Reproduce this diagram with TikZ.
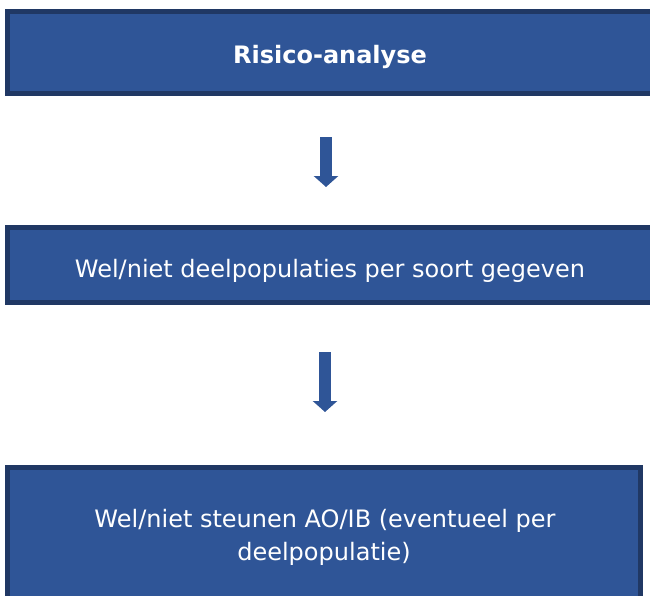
\documentclass[tikz,border=0pt]{standalone}
\usepackage{fontspec}
\setmainfont{DejaVu Sans}
\usetikzlibrary{arrows.meta}
\definecolor{boxfill}{HTML}{2F5597}
\definecolor{boxline}{HTML}{203864}
\begin{document}
\begin{tikzpicture}[x=1pt,y=-1pt,
  box/.style={draw=boxline, fill=boxfill, line width=5pt, inner sep=0pt},
  label/.style={text=white, inner sep=0pt, anchor=base, font=\fontsize{24}{33}\selectfont},
  blockarrow/.style={draw=boxfill, line width=12pt, -{Triangle[width=24pt,length=11pt]}}]
\useasboundingbox (0,0) rectangle (650,595);
\node[box, minimum width=647.5pt, minimum height=82pt] (b1) at (331.25,52.5) {};
\node[box, minimum width=647.5pt, minimum height=75pt] (b2) at (331.25,265) {};
\node[box, minimum width=633pt, minimum height=137pt] (b3) at (324,536) {};
\node[label, font=\fontsize{24}{33}\selectfont\bfseries] (t1) at (330,63) {Risico-analyse};
\node[label] (t2) at (330,277) {Wel/niet deelpopulaties per soort gegeven};
\node[label] (t3a) at (325,527) {Wel/niet steunen AO/IB (eventueel per};
\node[label] (t3b) at (324,560) {deelpopulatie)};
\coordinate (a1s) at (326,137);
\coordinate (a1e) at (326,187);
\coordinate (a2s) at (325,352);
\coordinate (a2e) at (325,412);
\draw[blockarrow] (a1s) -- (a1e);
\draw[blockarrow] (a2s) -- (a2e);
\end{tikzpicture}
\end{document}
